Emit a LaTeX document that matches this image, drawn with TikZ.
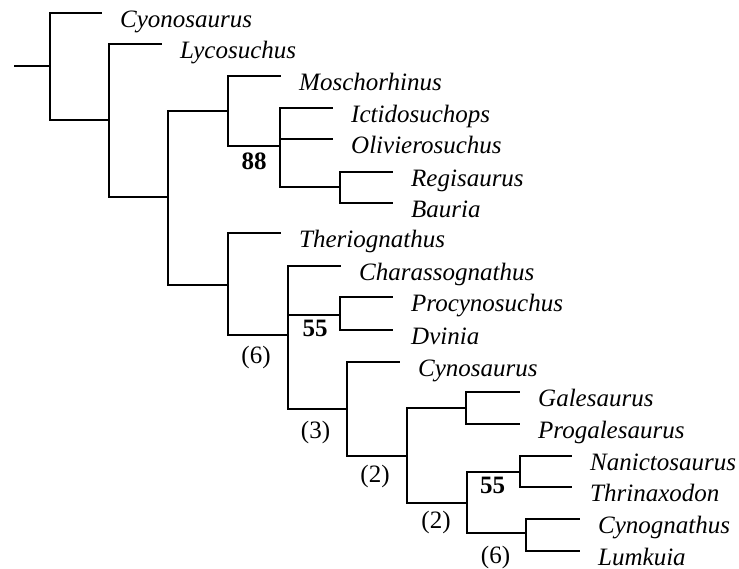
\documentclass[tikz,border=0pt]{standalone}
\usepackage{fontspec}
\setmainfont{Liberation Serif}

\begin{document}
\begin{tikzpicture}[x=1pt, y=-1pt,
  branchStyle/.style={line width=2.4pt},
  taxonStyle/.style={anchor=base west, xshift=18pt, yshift=-14pt, inner sep=0pt, font=\fontsize{25}{30}\selectfont\itshape},
  supportStyle/.style={inner sep=0pt, font=\fontsize{25}{30}\selectfont\bfseries},
  stepsStyle/.style={inner sep=0pt, font=\fontsize{25}{30}\selectfont}
]
\useasboundingbox (0,0) rectangle (739,568);

% internal nodes
\coordinate (root) at (14,66);
\coordinate (nA) at (50,66);
\coordinate (nB) at (109,120);
\coordinate (nC) at (168,197);
\coordinate (nD) at (228,111);
\coordinate (nE) at (280,146);
\coordinate (nF) at (340,187);
\coordinate (nTh) at (228,285);
\coordinate (nG) at (288,335);
\coordinate (nH) at (340,315);
\coordinate (nI) at (347,409);
\coordinate (nJ) at (407,456);
\coordinate (nK) at (466,408);
\coordinate (nL) at (467,503);
\coordinate (nM) at (520,472);
\coordinate (nN) at (526,533);

% tips
\coordinate (cyo) at (102,13);
\coordinate (lyc) at (162,44);
\coordinate (mos) at (281,76);
\coordinate (ict) at (333,108);
\coordinate (oli) at (333,139);
\coordinate (reg) at (393,172);
\coordinate (bau) at (393,203);
\coordinate (the) at (281,233);
\coordinate (cha) at (341,266);
\coordinate (pro) at (393,297);
\coordinate (dvi) at (393,330);
\coordinate (cyn) at (400,362);
\coordinate (gal) at (520,392);
\coordinate (prg) at (520,424);
\coordinate (nan) at (572,456);
\coordinate (thr) at (572,487);
\coordinate (cyg) at (580,519);
\coordinate (lum) at (580,551);

\node [taxonStyle] (tCyo) at (cyo) {Cyonosaurus};
\node [taxonStyle] (tLyc) at (lyc) {Lycosuchus};
\node [taxonStyle] (tMos) at (mos) {Moschorhinus};
\node [taxonStyle] (tIct) at (ict) {Ictidosuchops};
\node [taxonStyle] (tOli) at (oli) {Olivierosuchus};
\node [taxonStyle] (tReg) at (reg) {Regisaurus};
\node [taxonStyle] (tBau) at (bau) {Bauria};
\node [taxonStyle] (tThe) at (the) {Theriognathus};
\node [taxonStyle] (tCha) at (cha) {Charassognathus};
\node [taxonStyle] (tPro) at (pro) {Procynosuchus};
\node [taxonStyle] (tDvi) at (dvi) {Dvinia};
\node [taxonStyle] (tCyn) at (cyn) {Cynosaurus};
\node [taxonStyle] (tGal) at (gal) {Galesaurus};
\node [taxonStyle] (tPrg) at (prg) {Progalesaurus};
\node [taxonStyle] (tNan) at (nan) {Nanictosaurus};
\node [taxonStyle] (tThr) at (thr) {Thrinaxodon};
\node [taxonStyle] (tCyg) at (cyg) {Cynognathus};
\node [taxonStyle] (tLum) at (lum) {Lumkuia};

% branches
\draw [branchStyle] (root) -- (nA);
\draw [branchStyle] (nA) |- (cyo);
\draw [branchStyle] (nA) |- (nB);
\draw [branchStyle] (nB) |- (lyc);
\draw [branchStyle] (nB) |- (nC);
\draw [branchStyle] (nC) |- (nD);
\draw [branchStyle] (nC) |- (nTh);

\draw [branchStyle] (nD) |- (mos);
\draw [branchStyle] (nD) |- node [pos=0.75, supportStyle, yshift=-15pt] (bs88) {88} (nE);
\draw [branchStyle] (nE) |- (ict);
\draw [branchStyle] (nE) |- (oli);
\draw [branchStyle] (nE) |- (nF);
\draw [branchStyle] (nF) |- (reg);
\draw [branchStyle] (nF) |- (bau);

\draw [branchStyle] (nTh) |- (the);
\draw [branchStyle] (nTh) |- node [pos=0.75, stepsStyle, xshift=-2pt, yshift=-22pt] (st6a) {(6)} (nG);
\draw [branchStyle] (nG) |- (cha);
\draw [branchStyle] (nG) |- node [pos=0.75, supportStyle, xshift=1pt, yshift=-13pt] (bs55a) {55} (nH);
\draw [branchStyle] (nH) |- (pro);
\draw [branchStyle] (nH) |- (dvi);
\draw [branchStyle] (nG) |- node [pos=0.75, stepsStyle, xshift=-2pt, yshift=-23pt] (st3) {(3)} (nI);
\draw [branchStyle] (nI) |- (cyn);
\draw [branchStyle] (nI) |- node [pos=0.75, stepsStyle, xshift=-2pt, yshift=-20pt] (st2a) {(2)} (nJ);
\draw [branchStyle] (nJ) |- (nK);
\draw [branchStyle] (nK) |- (gal);
\draw [branchStyle] (nK) |- (prg);
\draw [branchStyle] (nJ) |- node [pos=0.75, stepsStyle, xshift=-1pt, yshift=-19pt] (st2b) {(2)} (nL);
\draw [branchStyle] (nL) |- node [pos=0.75, supportStyle, xshift=-1pt, yshift=-13pt] (bs55b) {55} (nM);
\draw [branchStyle] (nM) |- (nan);
\draw [branchStyle] (nM) |- (thr);
\draw [branchStyle] (nL) |- node [pos=0.75, stepsStyle, xshift=-1pt, yshift=-24pt] (st6b) {(6)} (nN);
\draw [branchStyle] (nN) |- (cyg);
\draw [branchStyle] (nN) |- (lum);
\end{tikzpicture}
\end{document}
